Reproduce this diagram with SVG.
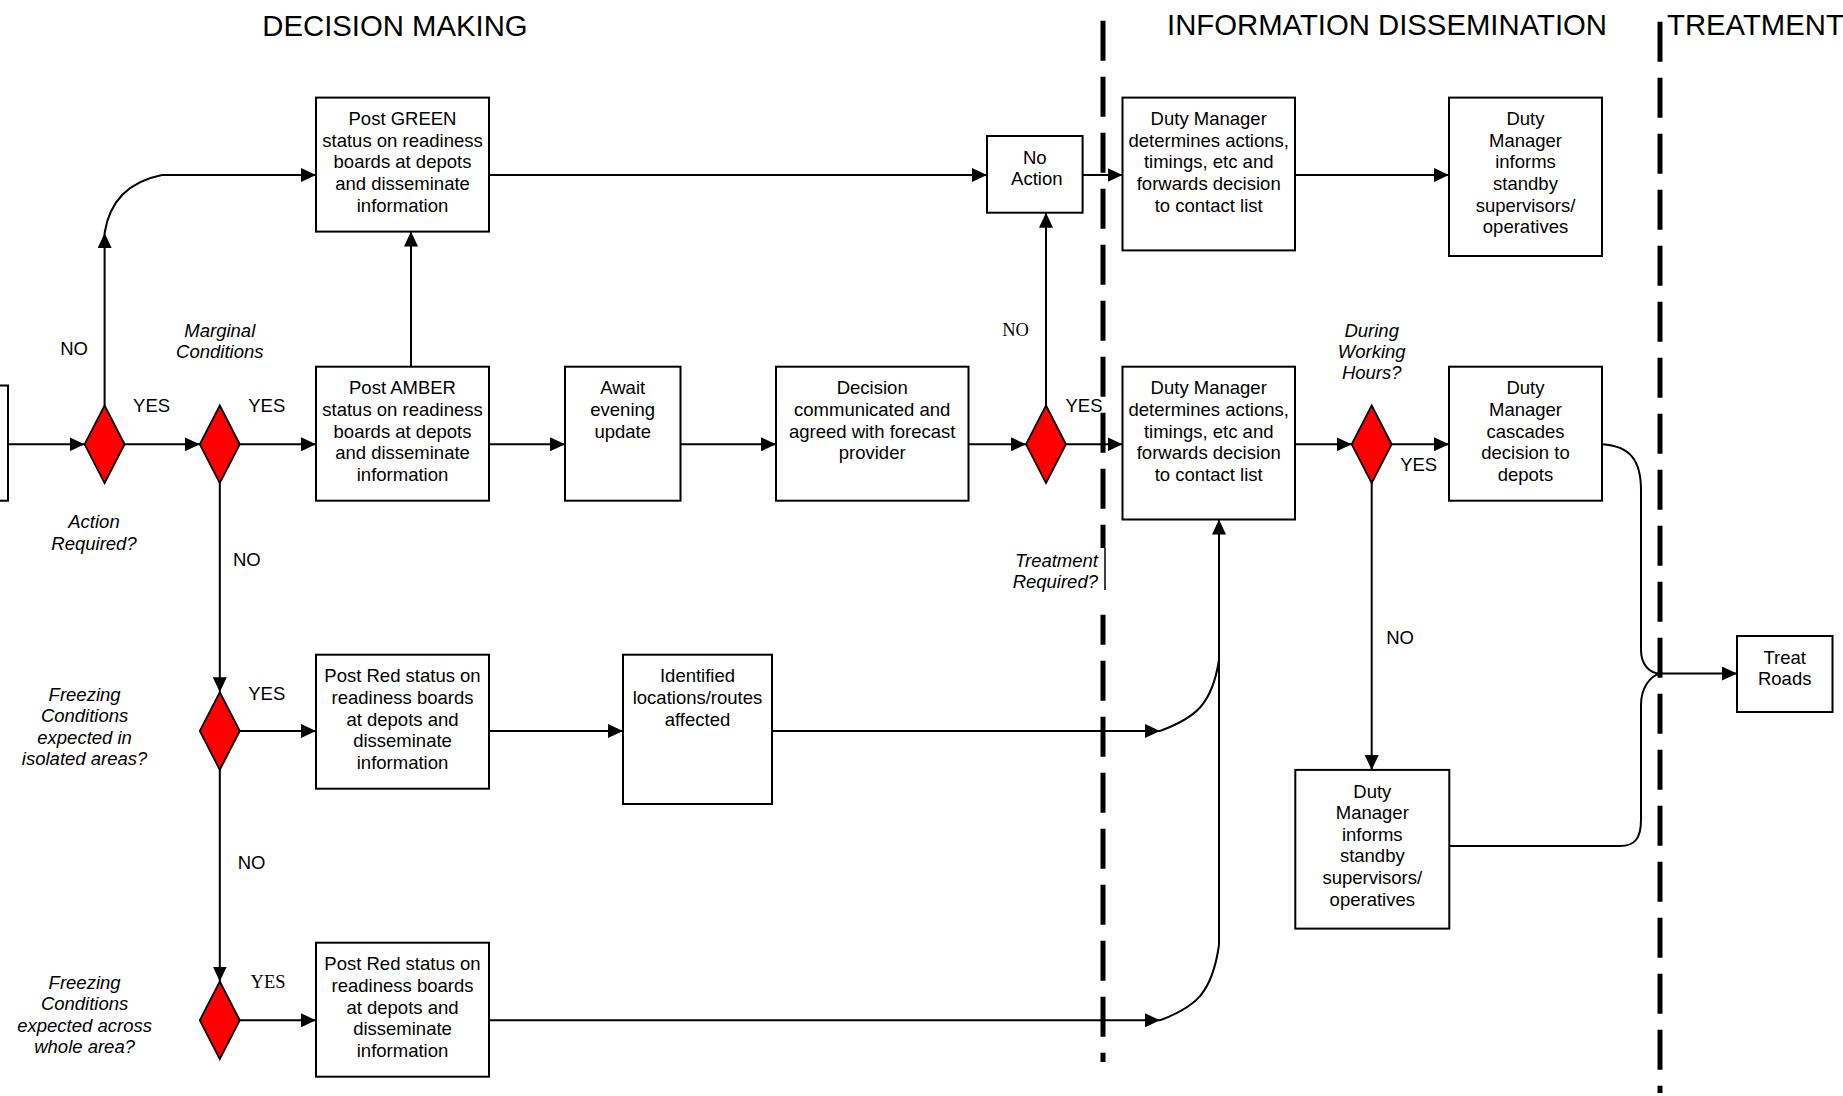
<svg xmlns="http://www.w3.org/2000/svg" width="1843" height="1096" viewBox="0 0 1843 1096">
<defs>
<marker id="ah" markerUnits="userSpaceOnUse" markerWidth="15" markerHeight="14" refX="15" refY="7" orient="auto">
<path d="M0,0 L15,7 L0,14 z" fill="#000"/>
</marker>
<style>
text{font-family:"Liberation Sans",Arial,sans-serif;font-size:18.5px;fill:#000}
.c{text-anchor:middle}
.i{font-style:italic}
.s{font-family:"Liberation Serif","Times New Roman",serif}
.t{font-size:29.3px}
.box{fill:#fff;stroke:#000;stroke-width:2}
.dia{fill:#ff0000;stroke:#000;stroke-width:1.8}
.ln{fill:none;stroke:#000;stroke-width:2}
.ar{marker-end:url(#ah)}
.dash{fill:none;stroke:#000;stroke-width:5;stroke-dasharray:40 16}
</style>
</defs>
<rect width="1843" height="1096" fill="#fff"/>

<g id="titles">
<text class="t c" x="395" y="36">DECISION MAKING</text>
<text class="t c" x="1387" y="35">INFORMATION DISSEMINATION</text>
<text class="t" x="1667" y="35">TREATMENT</text>
</g>

<g id="swimlanes">
<path class="dash" d="M1103,20.7 L1103,548"/>
<path d="M1105,548 L1105,590" stroke="#000" stroke-width="1.5"/>
<path class="dash" style="stroke-dashoffset:10" d="M1103,614.7 L1103,1062"/>
<path class="dash" d="M1660,21.7 L1660,1093"/>
</g>

<g id="connectors">
<path class="ln ar" d="M8,444.3 L84.6,444.3"/>
<path class="ln ar" d="M124.6,444.3 L199.8,444.3"/>
<path class="ln ar" d="M239.8,444.3 L316,444.3"/>
<path class="ln ar" d="M489,444.3 L565,444.3"/>
<path class="ln ar" d="M680.5,444.3 L776,444.3"/>
<path class="ln ar" d="M968.5,444.3 L1026,444.3"/>
<path class="ln ar" d="M1066,444.3 L1122.5,444.3"/>
<path class="ln ar" d="M1295,444.3 L1351.7,444.3"/>
<path class="ln ar" d="M1391.7,444.3 L1449,444.3"/>
<path class="ln ar" d="M104.6,405.5 L104.6,233"/>
<path class="ln ar" d="M104.6,233 Q112,185 162,175 L316,175"/>
<path class="ln ar" d="M411,366.7 L411,231.6"/>
<path class="ln ar" d="M489,175 L987,175"/>
<path class="ln ar" d="M1082.6,175 L1122.5,175"/>
<path class="ln ar" d="M1295,175 L1449,175"/>
<path class="ln ar" d="M1046,405.5 L1046,212.7"/>
<path class="ln ar" d="M219.8,483.1 L219.8,692.2"/>
<path class="ln ar" d="M239.8,731 L316,731"/>
<path class="ln ar" d="M219.8,769.8 L219.8,981.5"/>
<path class="ln ar" d="M239.8,1020.3 L316,1020.3"/>
<path class="ln ar" d="M489,731 L623,731"/>
<path class="ln ar" d="M772,731 L1160,731"/>
<path class="ln" d="M1160,731 C1195,718 1212,705 1219,660"/>
<path class="ln ar" d="M489,1020.3 L1160,1020.3"/>
<path class="ln" d="M1160,1020.3 C1195,1007 1212,994 1219,945"/>
<path class="ln ar" d="M1219,945 L1219,519.5"/>
<path class="ln ar" d="M1371.7,483.1 L1371.7,770"/>
<path class="ln" d="M1602,444.3 C1630,446 1641,460 1641,490 L1641,650 C1641,665 1650,673.5 1660,673.5"/>
<path class="ln" d="M1449,846 L1620,846 C1635,846 1641,838 1641,820 L1641,705 C1641,688 1650,676 1660,673.5"/>
<path class="ln ar" d="M1660,673.5 L1737,673.5"/>
</g>

<g id="n_prev"><rect class="box" x="-20" y="385.5" width="28" height="115.2"/></g>

<g id="d_action">
<polygon class="dia" points="104.6,405.5 124.6,444.3 104.6,483.1 84.6,444.3"/>
<text class="c i" x="94" y="528.4">Action</text>
<text class="c i" x="94" y="549.5">Required?</text>
</g>
<g id="d_marginal">
<polygon class="dia" points="219.8,405.5 239.8,444.3 219.8,483.1 199.8,444.3"/>
<text class="c i" x="219.8" y="336.8">Marginal</text>
<text class="c i" x="219.8" y="357.9">Conditions</text>
</g>
<g id="d_isolated">
<polygon class="dia" points="219.8,692.2 239.8,731 219.8,769.8 199.8,731"/>
<text class="c i" x="84.6" y="701.2">Freezing</text>
<text class="c i" x="84.6" y="722.3">Conditions</text>
<text class="c i" x="84.6" y="743.5">expected in</text>
<text class="c i" x="84.6" y="764.6">isolated areas?</text>
</g>
<g id="d_whole">
<polygon class="dia" points="219.8,981.5 239.8,1020.3 219.8,1059.1 199.8,1020.3"/>
<text class="c i" x="84.6" y="989">Freezing</text>
<text class="c i" x="84.6" y="1010.3">Conditions</text>
<text class="c i" x="84.6" y="1031.5">expected across</text>
<text class="c i" x="84.6" y="1052.6">whole area?</text>
</g>
<g id="d_treatment">
<polygon class="dia" points="1046,405.5 1066,444.3 1046,483.1 1026,444.3"/>
<text class="i" x="1098" y="567.2" text-anchor="end">Treatment</text>
<text class="i" x="1098" y="588.3" text-anchor="end">Required?</text>
</g>
<g id="d_hours">
<polygon class="dia" points="1371.7,405.5 1391.7,444.3 1371.7,483.1 1351.7,444.3"/>
<text class="c i" x="1371.7" y="336.8">During</text>
<text class="c i" x="1371.7" y="357.9">Working</text>
<text class="c i" x="1371.7" y="379">Hours?</text>
</g>

<g id="labels">
<text class="c" x="74" y="354.5">NO</text>
<text class="c" x="151.6" y="412">YES</text>
<text class="c" x="266.8" y="412">YES</text>
<text class="c" x="246.8" y="566">NO</text>
<text class="c" x="266.8" y="700">YES</text>
<text class="c" x="251.5" y="869">NO</text>
<text class="c s" x="268" y="988">YES</text>
<text class="c s" x="1015.5" y="335.5">NO</text>
<text class="c" x="1084" y="412">YES</text>
<text class="c" x="1418.7" y="470.8">YES</text>
<text class="c" x="1400" y="643.5">NO</text>
</g>

<g id="n_green">
<rect class="box" x="316" y="97.6" width="173" height="134"/>
<text class="c" x="402.5" y="125.2">Post GREEN</text>
<text class="c" x="402.5" y="146.8">status on readiness</text>
<text class="c" x="402.5" y="168.4">boards at depots</text>
<text class="c" x="402.5" y="190">and disseminate</text>
<text class="c" x="402.5" y="211.6">information</text>
</g>
<g id="n_amber">
<rect class="box" x="316" y="366.7" width="173" height="134"/>
<text class="c" x="402.5" y="394.4">Post AMBER</text>
<text class="c" x="402.5" y="416">status on readiness</text>
<text class="c" x="402.5" y="437.6">boards at depots</text>
<text class="c" x="402.5" y="459.2">and disseminate</text>
<text class="c" x="402.5" y="480.8">information</text>
</g>
<g id="n_await">
<rect class="box" x="565" y="366.7" width="115.5" height="134"/>
<text class="c" x="622.7" y="394.4">Await</text>
<text class="c" x="622.7" y="416">evening</text>
<text class="c" x="622.7" y="437.6">update</text>
</g>
<g id="n_decision">
<rect class="box" x="776" y="366.7" width="192.5" height="134"/>
<text class="c" x="872.2" y="394.4">Decision</text>
<text class="c" x="872.2" y="416">communicated and</text>
<text class="c" x="872.2" y="437.6">agreed with forecast</text>
<text class="c" x="872.2" y="459.2">provider</text>
</g>
<g id="n_noaction">
<rect class="box" x="987" y="136" width="95.6" height="76.7"/>
<text class="c" x="1034.8" y="164">No</text>
<text class="c" x="1036.8" y="185.2">Action</text>
</g>
<g id="n_dm_top">
<rect class="box" x="1122.5" y="97.6" width="172.5" height="152.8"/>
<text class="c" x="1208.7" y="125.2">Duty Manager</text>
<text class="c" x="1208.7" y="146.8">determines actions,</text>
<text class="c" x="1208.7" y="168.4">timings, etc and</text>
<text class="c" x="1208.7" y="190">forwards decision</text>
<text class="c" x="1208.7" y="211.6">to contact list</text>
</g>
<g id="n_inform_top">
<rect class="box" x="1449" y="97.6" width="153" height="158.4"/>
<text class="c" x="1525.5" y="125.2">Duty</text>
<text class="c" x="1525.5" y="146.8">Manager</text>
<text class="c" x="1525.5" y="168.4">informs</text>
<text class="c" x="1525.5" y="190">standby</text>
<text class="c" x="1525.5" y="211.6">supervisors/</text>
<text class="c" x="1525.5" y="233.2">operatives</text>
</g>
<g id="n_dm_mid">
<rect class="box" x="1122.5" y="366.7" width="172.5" height="152.8"/>
<text class="c" x="1208.7" y="394.4">Duty Manager</text>
<text class="c" x="1208.7" y="416">determines actions,</text>
<text class="c" x="1208.7" y="437.6">timings, etc and</text>
<text class="c" x="1208.7" y="459.2">forwards decision</text>
<text class="c" x="1208.7" y="480.8">to contact list</text>
</g>
<g id="n_cascade">
<rect class="box" x="1449" y="366.7" width="153" height="134"/>
<text class="c" x="1525.5" y="394.4">Duty</text>
<text class="c" x="1525.5" y="416">Manager</text>
<text class="c" x="1525.5" y="437.6">cascades</text>
<text class="c" x="1525.5" y="459.2">decision to</text>
<text class="c" x="1525.5" y="480.8">depots</text>
</g>
<g id="n_treat">
<rect class="box" x="1737" y="636" width="95.5" height="76"/>
<text class="c" x="1784.7" y="663.5">Treat</text>
<text class="c" x="1784.7" y="684.7">Roads</text>
</g>
<g id="n_red_isolated">
<rect class="box" x="316" y="654.7" width="173" height="134"/>
<text class="c" x="402.5" y="682.4">Post Red status on</text>
<text class="c" x="402.5" y="704">readiness boards</text>
<text class="c" x="402.5" y="725.6">at depots and</text>
<text class="c" x="402.5" y="747.2">disseminate</text>
<text class="c" x="402.5" y="768.8">information</text>
</g>
<g id="n_identified">
<rect class="box" x="623" y="654.7" width="149" height="149.3"/>
<text class="c" x="697.5" y="682.4">Identified</text>
<text class="c" x="697.5" y="704">locations/routes</text>
<text class="c" x="697.5" y="725.6">affected</text>
</g>
<g id="n_inform_bottom">
<rect class="box" x="1295.3" y="769.9" width="154" height="158.7"/>
<text class="c" x="1372.3" y="797.5">Duty</text>
<text class="c" x="1372.3" y="819.1">Manager</text>
<text class="c" x="1372.3" y="840.7">informs</text>
<text class="c" x="1372.3" y="862.3">standby</text>
<text class="c" x="1372.3" y="883.9">supervisors/</text>
<text class="c" x="1372.3" y="905.5">operatives</text>
</g>
<g id="n_red_whole">
<rect class="box" x="316" y="942.7" width="173" height="134"/>
<text class="c" x="402.5" y="970.3">Post Red status on</text>
<text class="c" x="402.5" y="991.9">readiness boards</text>
<text class="c" x="402.5" y="1013.5">at depots and</text>
<text class="c" x="402.5" y="1035.1">disseminate</text>
<text class="c" x="402.5" y="1056.7">information</text>
</g>
</svg>
